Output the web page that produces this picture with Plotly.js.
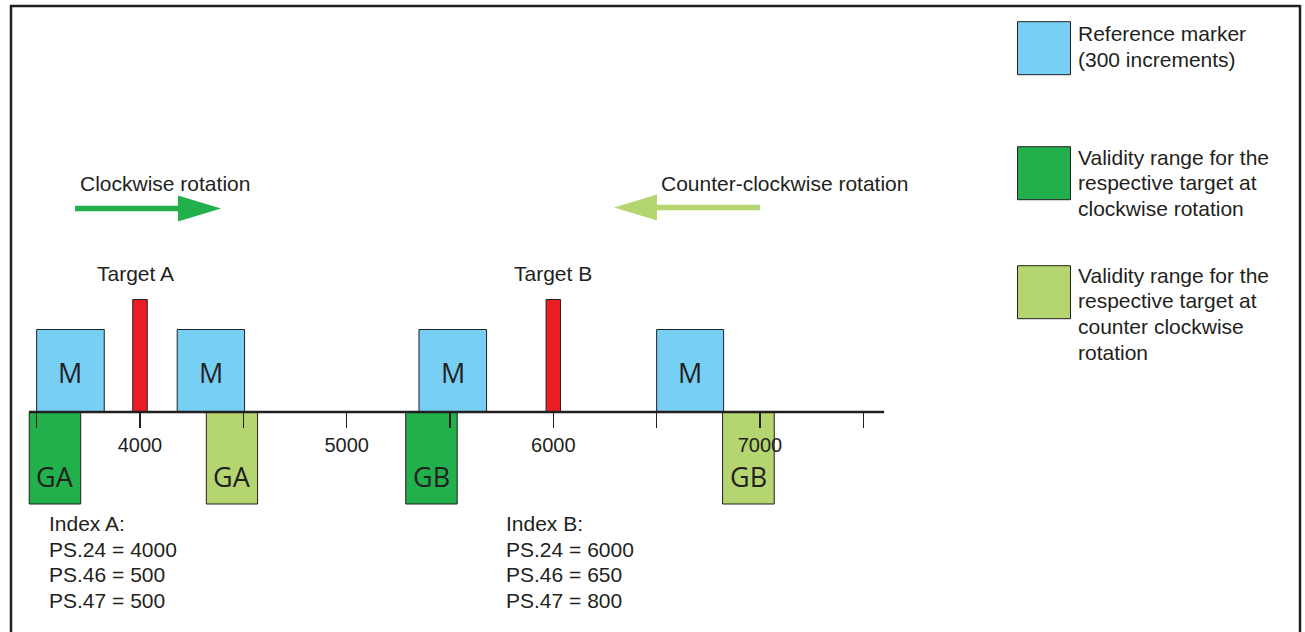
<!DOCTYPE html>
<html>
<head>
<meta charset="utf-8">
<script src="https://cdn.plot.ly/plotly-3.0.1.min.js"></script>
<style>html,body{margin:0;padding:0;background:#fff;}#chart{width:1305px;height:632px;}</style>
</head>
<body>
<div id="chart"></div>
<script>
// ---------- data (encoder increments) ----------
const markerStart = [3500, 4180, 5350, 6500];
const markerEnd   = [3827, 4506, 5677, 6824];
const markerLabels = ["M", "M", "M", "M"];

const targetPos    = [4000, 6000];
const targetLabels = ["Target A", "Target B"];

const cwStart  = [3464, 5286];
const cwEnd    = [3713, 5535];
const cwLabels = ["GA", "GB"];

const ccwStart  = [4321, 6819];
const ccwEnd    = [4569, 7069];
const ccwLabels = ["GA", "GB"];

const tickVals   = [3500, 4000, 4500, 5000, 5500, 6000, 6500, 7000, 7500];
const tickLabels = ["", "4000", "", "5000", "", "6000", "", "7000", ""];

const indexA = ["Index A:", "PS.24 = 4000", "PS.46 = 500", "PS.47 = 500"];
const indexB = ["Index B:", "PS.24 = 6000", "PS.46 = 650", "PS.47 = 800"];

const legendLabels = [
  ["Reference marker", "(300 increments)"],
  ["Validity range for the", "respective target at", "clockwise rotation"],
  ["Validity range for the", "respective target at", "counter clockwise", "rotation"]
];

// ---------- layout / style constants ----------
const W = 1305, H = 632;
const TXT = "#231f20";
const C_BLUE = "#77cff4", C_RED = "#ec1c24", C_DG = "#21b04b", C_LG = "#b4d56f";
const FONT = "Liberation Sans, Arial, sans-serif";
const BOXFONT = "Open Sans, sans-serif";
const PX_PER_UNIT = 103.33 / 500;
const X0_PX = 140, X0_VAL = 4000;   // pixel of value 4000
const AXIS_PY = 412;                // pixel row of the baseline
const xRange = [X0_VAL - X0_PX / PX_PER_UNIT, X0_VAL + (W - X0_PX) / PX_PER_UNIT];
const yRange = [AXIS_PY - H, AXIS_PY];
const MARKER_H = 82.5, TARGET_H = 112.5, RANGE_D = -92;
const AXIS_START = 3463, AXIS_END = 7601;
const TARGET_LABEL_SHIFT = [-5, 0];

const px = x => x / W;
const py = y => 1 - y / H;

const mid = (a, b) => a.map((s, i) => (s + b[i]) / 2);
const wid = (a, b) => a.map((s, i) => b[i] - s);

function boxTrace(starts, ends, height, color) {
  return {
    type: "bar",
    x: mid(starts, ends),
    width: wid(starts, ends),
    y: starts.map(() => height),
    base: 0,
    marker: {color: color, line: {color: TXT, width: 1}},
    hoverinfo: "skip",
    showlegend: false
  };
}

const traces = [
  boxTrace(markerStart, markerEnd, MARKER_H, C_BLUE),
  boxTrace(targetPos.map(v => v - 35), targetPos.map(v => v + 35), TARGET_H, C_RED),
  boxTrace(cwStart, cwEnd, RANGE_D, C_DG),
  boxTrace(ccwStart, ccwEnd, RANGE_D, C_LG)
];

const annotations = [];
function boxText(starts, ends, labels, y) {
  mid(starts, ends).forEach((x, i) => annotations.push({
    x: x, y: y, xref: "x", yref: "y", text: labels[i], showarrow: false,
    xanchor: "center", yanchor: "middle",
    font: {family: BOXFONT, size: 27, color: TXT}
  }));
}
boxText(markerStart, markerEnd, markerLabels, 40);
boxText(cwStart, cwEnd, cwLabels, -64);
boxText(ccwStart, ccwEnd, ccwLabels, -64);

targetPos.forEach((x, i) => annotations.push({
  x: x, xref: "x", xshift: TARGET_LABEL_SHIFT[i], y: py(273), yref: "paper", text: targetLabels[i], showarrow: false,
  xanchor: "center", yanchor: "middle", font: {family: FONT, size: 21, color: TXT}
}));

function textBlock(lines, left, top, step) {
  lines.forEach((t, i) => annotations.push({
    x: px(left), y: py(top + i * step), xref: "paper", yref: "paper", text: t,
    showarrow: false, xanchor: "left", yanchor: "middle",
    font: {family: FONT, size: 21, color: TXT}
  }));
}
textBlock(indexA, 47, 523.5, 25.7);
textBlock(indexB, 504, 523.5, 25.7);
textBlock(["Clockwise rotation"], 78, 183.5, 0);
textBlock(["Counter-clockwise rotation"], 659, 183.5, 0);

const legendTops = [21.7, 146.7, 265.7];
const legendColors = [C_BLUE, C_DG, C_LG];
const legendTextY = [34, 157, 275];
const shapes = [];
legendColors.forEach((c, i) => {
  shapes.push({type: "rect", xref: "paper", yref: "paper",
    x0: px(1017.5), x1: px(1070.5), y0: py(legendTops[i]), y1: py(legendTops[i] + 53),
    fillcolor: c, line: {color: TXT, width: 1}});
  textBlock(legendLabels[i], 1076, legendTextY[i], 25.7);
});

// baseline
shapes.push({type: "line", xref: "x", yref: "y", x0: AXIS_START, x1: AXIS_END, y0: 0, y1: 0,
  line: {color: TXT, width: 2.6}});

// frame
shapes.push({type: "line", xref: "paper", yref: "paper", x0: px(11), x1: px(11), y0: py(5), y1: py(H + 2), line: {color: TXT, width: 2.5}});
shapes.push({type: "line", xref: "paper", yref: "paper", x0: px(10), x1: px(1300), y0: py(6), y1: py(6), line: {color: TXT, width: 2.5}});
shapes.push({type: "line", xref: "paper", yref: "paper", x0: px(1300), x1: px(1300), y0: py(5), y1: py(H + 2), line: {color: TXT, width: 2.5}});

// rotation arrows
function arrow(tail, headBase, tip, y, color) {
  shapes.push({type: "line", xref: "paper", yref: "paper", x0: px(tail), x1: px(headBase), y0: py(y), y1: py(y),
    line: {color: color, width: 5.5}});
  shapes.push({type: "path", xref: "paper", yref: "paper",
    path: `M ${px(headBase)},${py(y - 13)} L ${px(tip)},${py(y)} L ${px(headBase)},${py(y + 13)} Z`,
    fillcolor: color, line: {width: 0}});
}
arrow(75, 178, 221, 208.5, C_DG);
arrow(760, 657, 614, 207.5, C_LG);

const layout = {
  width: W, height: H,
  margin: {l: 0, r: 0, t: 0, b: 0, pad: 0},
  paper_bgcolor: "#ffffff", plot_bgcolor: "#ffffff",
  barmode: "overlay", showlegend: false,
  xaxis: {
    range: xRange, anchor: "free", position: py(AXIS_PY),
    showgrid: false, zeroline: false, showline: false,
    tickmode: "array", tickvals: tickVals, ticktext: tickLabels,
    ticks: "outside", ticklen: 15, tickwidth: 1.3, tickcolor: TXT,
    tickfont: {family: FONT, size: 20, color: TXT},
    fixedrange: true
  },
  yaxis: {range: yRange, visible: false, showgrid: false, zeroline: false, fixedrange: true},
  annotations: annotations,
  shapes: shapes
};

Plotly.newPlot("chart", traces, layout, {displayModeBar: false, staticPlot: true});
</script>
</body>
</html>
